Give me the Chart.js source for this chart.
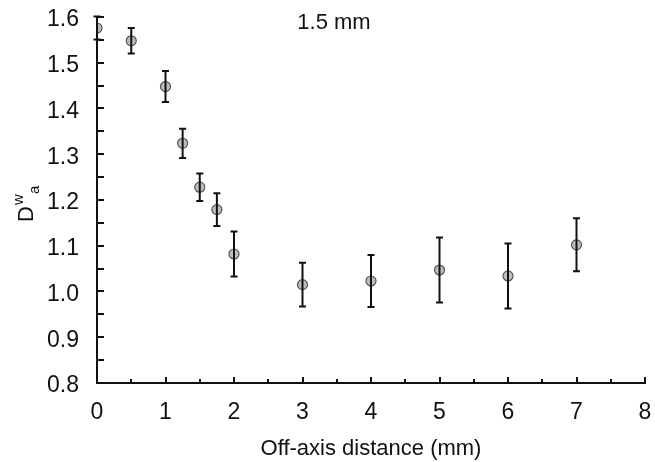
<!DOCTYPE html>
<html>
<head>
<meta charset="utf-8">
<script src="https://cdn.jsdelivr.net/npm/chart.js@4.4.0/dist/chart.umd.min.js"></script>
<style>
html, body { margin: 0; padding: 0; background: #fff; }
</style>
</head>
<body>
<canvas id="chart" width="655" height="462"></canvas>
<script>
// Off-axis distance (mm) and measured D^w_a with error bars
const distances = [0, 0.5, 1, 1.25, 1.5, 1.75, 2, 3, 4, 5, 6, 7];
const dwaValues = [1.576, 1.548, 1.448, 1.324, 1.228, 1.179, 1.082, 1.015, 1.023, 1.047, 1.034, 1.102];
const dwaErrors = [0.025, 0.028, 0.034, 0.032, 0.030, 0.036, 0.049, 0.048, 0.057, 0.071, 0.071, 0.058];
const xTicks = [0, 1, 2, 3, 4, 5, 6, 7, 8];
const yTicks = [0.8, 0.9, 1.0, 1.1, 1.2, 1.3, 1.4, 1.5, 1.6];
const titleText = "1.5 mm";
const xTitle = "Off-axis distance (mm)";

const FONT = "'Liberation Sans', Arial, sans-serif";

// error bars + inward ticks + labels
const extras = {
    id: "extras",
    afterDatasetsDraw(chart) {
        const ctx = chart.ctx;
        const xs = chart.scales.x;
        const ys = chart.scales.y;
        const area = chart.chartArea;
        ctx.save();
        ctx.strokeStyle = "#111";
        ctx.lineWidth = 2;

        // inward ticks on y axis (major + minor)
        for (let v = 0.8; v <= 1.6001; v += 0.05) {
            const py = Math.round(ys.getPixelForValue(v));
            ctx.beginPath();
            ctx.moveTo(area.left, py);
            ctx.lineTo(area.left + 7, py);
            ctx.stroke();
        }
        // inward ticks on x axis
        for (let v = 0.5; v <= 8.001; v += 0.5) {
            const px = Math.round(xs.getPixelForValue(v));
            const major = Math.abs(v - Math.round(v)) < 1e-6;
            ctx.beginPath();
            ctx.moveTo(px, area.bottom);
            ctx.lineTo(px, area.bottom - (major ? 6 : 4));
            ctx.stroke();
        }

        // error bars
        distances.forEach((d, i) => {
            const px = xs.getPixelForValue(d);
            const top = ys.getPixelForValue(dwaValues[i] + dwaErrors[i]);
            const bot = ys.getPixelForValue(dwaValues[i] - dwaErrors[i]);
            ctx.beginPath();
            ctx.moveTo(px, top);
            ctx.lineTo(px, bot);
            ctx.moveTo(px - 3.5, top);
            ctx.lineTo(px + 3.5, top);
            ctx.moveTo(px - 3.5, bot);
            ctx.lineTo(px + 3.5, bot);
            ctx.stroke();
        });
        ctx.restore();
    },
    afterDraw(chart) {
        const ctx = chart.ctx;
        ctx.save();
        ctx.fillStyle = "#111";
        ctx.font = "22px " + FONT;
        ctx.textAlign = "center";
        ctx.textBaseline = "middle";
        ctx.fillText(titleText, 334, 23);

        // y axis label D^w_a, rotated
        ctx.translate(33, 202);
        ctx.rotate(-Math.PI / 2);
        ctx.textAlign = "left";
        ctx.textBaseline = "alphabetic";
        ctx.font = "22px " + FONT;
        ctx.fillText("D", -20, 0);
        const dw = ctx.measureText("D").width;
        ctx.font = "15px " + FONT;
        ctx.fillText("w", -20 + dw + 1, -10);
        ctx.fillText("a", -20 + dw + 12, 6);
        ctx.restore();
    },
};

function noPad(s) {
    s.paddingTop = 0;
    s.paddingBottom = 0;
    s.paddingLeft = 0;
    s.paddingRight = 0;
}

new Chart(document.getElementById("chart"), {
    type: "scatter",
    data: {
        datasets: [{
            data: distances.map((d, i) => ({x: d, y: dwaValues[i]})),
            backgroundColor: "#bdbdbd",
            borderColor: "#555",
            borderWidth: 1.2,
            pointRadius: 5,
            pointHoverRadius: 5,
        }],
    },
    options: {
        responsive: false,
        animation: false,
        events: [],
        layout: {padding: {top: 17, right: 10, left: 0, bottom: 0}},
        plugins: {legend: {display: false}, tooltip: {enabled: false}},
        scales: {
            x: {
                type: "linear",
                min: 0,
                max: 8,
                afterBuildTicks: (s) => { s.ticks = xTicks.map((v) => ({value: v})); },
                afterFit: (s) => { s.height = 79; noPad(s); },
                grid: {display: true, drawOnChartArea: false, drawTicks: false},
                border: {display: true, color: "#111", width: 2},
                ticks: {
                    color: "#111",
                    font: {family: FONT, size: 23},
                    padding: 16,
                    maxRotation: 0,
                    callback: (v) => String(v),
                },
                title: {
                    display: true,
                    text: xTitle,
                    color: "#111",
                    font: {family: FONT, size: 22},
                    padding: {top: 4, bottom: 0},
                },
            },
            y: {
                type: "linear",
                min: 0.8,
                max: 1.6,
                afterBuildTicks: (s) => { s.ticks = yTicks.map((v) => ({value: v})); },
                afterFit: (s) => { s.width = 97; noPad(s); },
                grid: {display: true, drawOnChartArea: false, drawTicks: false},
                border: {display: true, color: "#111", width: 2},
                ticks: {
                    color: "#111",
                    font: {family: FONT, size: 23},
                    padding: 18,
                    labelOffset: 3,
                    callback: (v) => v.toFixed(1),
                },
            },
        },
    },
    plugins: [extras],
});
</script>
</body>
</html>
